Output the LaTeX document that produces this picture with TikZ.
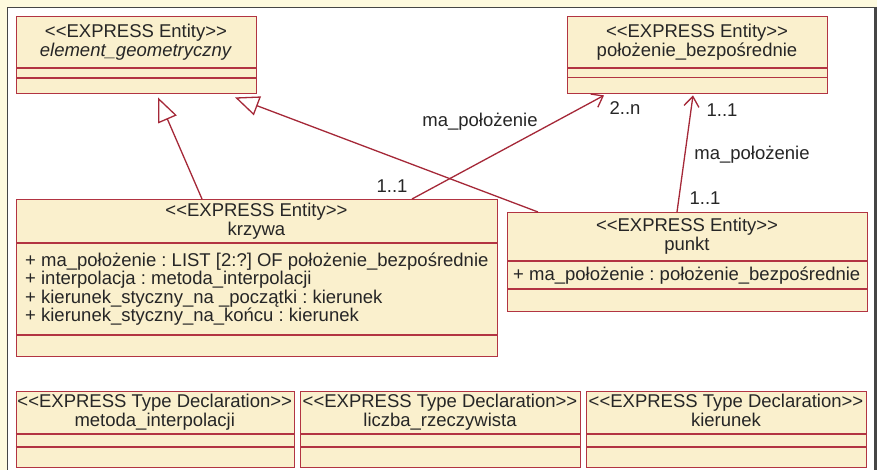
\documentclass[tikz,border=0pt]{standalone}
\usepackage{fontspec}
\setmainfont{Liberation Sans}
\usetikzlibrary{arrows.meta,calc}
\definecolor{pagebg}{RGB}{254,250,222}
\definecolor{framegray}{RGB}{70,70,70}
\definecolor{boxfill}{RGB}{250,240,205}
\definecolor{boxline}{RGB}{178,52,66}
\definecolor{linkcol}{RGB}{165,40,56}
% plain angle brackets, kept apart so the font mapping leaves them alone
\newcommand{\stereo}[1]{<\kern0pt<#1>\kern0pt>}
\frenchspacing
\tikzset{
  umlbox/.style={draw=boxline, fill=boxfill, line width=1.4pt, rectangle, inner sep=0pt, anchor=north west},
  sepline/.style={draw=boxline, line width=1.4pt},
  txt/.style={font=\fontsize{18.5}{18.6}\selectfont, inner sep=0pt, text=black!85},
  gen/.style={draw=linkcol, line width=1.3pt, -{Triangle[open, length=24pt, width=20pt, fill=white]}},
  assoc/.style={draw=linkcol, line width=1.3pt, -{Straight Barb[length=10pt, width=15pt]}},
}
\begin{document}
\begin{tikzpicture}[x=1pt,y=-1pt]
\useasboundingbox (0,0) rectangle (877,470);
% page and frame
\fill[pagebg] (0,0) rectangle (877,470);
\fill[white] (7,7) rectangle (875,470);
\draw[framegray, line width=1.5pt] (7.5,470) -- (7.5,7.5) -- (874.5,7.5);
\draw[framegray, line width=2.5pt] (875.5,7) -- (875.5,470);

% entity boxes
\node[umlbox, minimum width=240pt, minimum height=77pt] (eg) at (16,16) {};
\draw[sepline] (16,68) -- (256,68) (16,78) -- (256,78);
\node[txt, align=center] (egname) at (136,42) {\stereo{EXPRESS Entity}\\\textit{element\_geometryczny}};

\node[umlbox, minimum width=260pt, minimum height=77pt] (pb) at (567,16) {};
\draw[sepline] (567,68) -- (827,68) (567,77.5) -- (827,77.5);
\node[txt, align=center] (pbname) at (697,42) {\stereo{EXPRESS Entity}\\położenie\_bezpośrednie};

\node[umlbox, minimum width=481pt, minimum height=157pt] (kr) at (16,199) {};
\draw[sepline] (16,243) -- (497,243) (16,335) -- (497,335);
\node[txt, align=center] (krname) at (256.5,221) {\stereo{EXPRESS Entity}\\krzywa};
\node[txt, anchor=base west] (kra1) at (25,266) {+ ma\_położenie : LIST [2:?] OF położenie\_bezpośrednie};
\node[txt, anchor=base west] (kra2) at (25,284.6) {+ interpolacja : metoda\_interpolacji};
\node[txt, anchor=base west] (kra3) at (25,303.2) {+ kierunek\_styczny\_na \_początki : kierunek};
\node[txt, anchor=base west] (kra4) at (25,321.8) {+ kierunek\_styczny\_na\_końcu : kierunek};

\node[umlbox, minimum width=360pt, minimum height=99pt] (pk) at (507,212) {};
\draw[sepline] (507,261) -- (867,261) (507,289) -- (867,289);
\node[txt, align=center] (pkname) at (687,236.5) {\stereo{EXPRESS Entity}\\punkt};
\node[txt, anchor=base west] (pka1) at (513,280) {+ ma\_położenie : położenie\_bezpośrednie};

% type declaration boxes
\node[umlbox, minimum width=278.5pt, minimum height=76pt] (t1) at (15.5,391) {};
\draw[sepline] (15.5,434) -- (294,434) (15.5,447) -- (294,447);
\node[txt, align=center] (t1name) at (154.75,412.5) {\stereo{EXPRESS Type Declaration}\\metoda\_interpolacji};

\node[umlbox, minimum width=280pt, minimum height=76pt] (t2) at (300,391) {};
\draw[sepline] (300,434) -- (580,434) (300,447) -- (580,447);
\node[txt, align=center] (t2name) at (440,412.5) {\stereo{EXPRESS Type Declaration}\\liczba\_rzeczywista};

\node[umlbox, minimum width=280pt, minimum height=76pt] (t3) at (586,391) {};
\draw[sepline] (586,434) -- (866,434) (586,447) -- (866,447);
\node[txt, align=center] (t3name) at (726,410.5) {\stereo{EXPRESS Type Declaration}\\kierunek};

% generalizations
\draw[gen] ($(kr.north west)+(186,0)$) -- ($(eg.south west)+(142,3)$);
\draw[gen] ($(pk.north west)+(31,0)$) -- ($(eg.south west)+(219,3)$);

% associations
\draw[assoc] ($(kr.north west)+(396,0)$) -- ($(pb.south west)+(37,1)$);
\draw[assoc] ($(pk.north west)+(170,0)$) -- ($(pb.south west)+(126,1)$);

% association labels
\node[txt] (m1) at (392,186) {1..1};
\node[txt] (m2) at (625,108) {2..n};
\node[txt] (r1) at (480,122) {ma\_położenie};
\node[txt] (m3) at (722,110) {1..1};
\node[txt] (r2) at (752,155) {ma\_położenie};
\node[txt] (m4) at (705,198) {1..1};
\end{tikzpicture}
\end{document}
